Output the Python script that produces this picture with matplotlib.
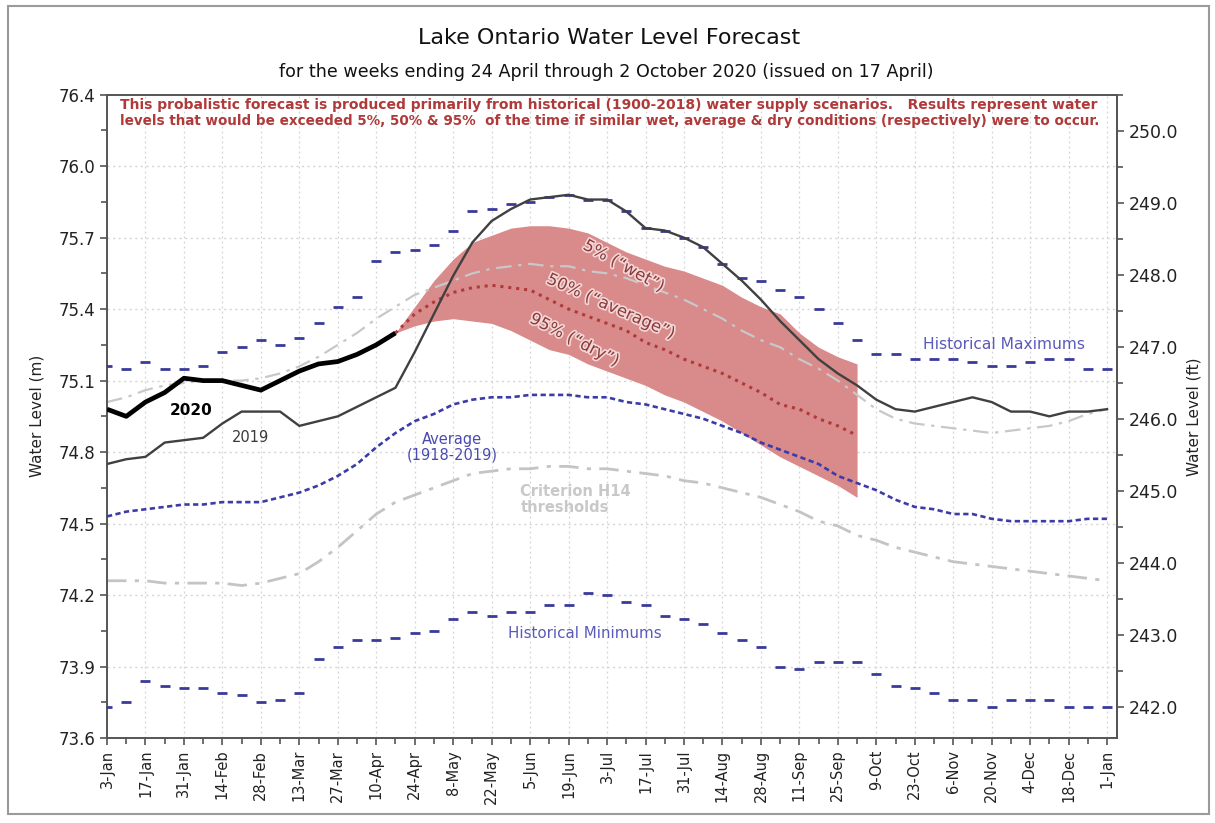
import matplotlib
matplotlib.use("Agg")
import matplotlib.pyplot as plt
import matplotlib.patheffects as pe
from matplotlib.patches import Rectangle
import numpy as np

# ---------------- data ----------------
week_labels = ["3-Jan", "17-Jan", "31-Jan", "14-Feb", "28-Feb", "13-Mar", "27-Mar",
               "10-Apr", "24-Apr", "8-May", "22-May", "5-Jun", "19-Jun", "3-Jul",
               "17-Jul", "31-Jul", "14-Aug", "28-Aug", "11-Sep", "25-Sep", "9-Oct",
               "23-Oct", "6-Nov", "20-Nov", "4-Dec", "18-Dec", "1-Jan"]

hist_max = [75.16, 75.15, 75.18, 75.15, 75.15, 75.16, 75.22, 75.24, 75.27, 75.25,
            75.28, 75.34, 75.41, 75.45, 75.60, 75.64, 75.65, 75.67, 75.73, 75.81,
            75.82, 75.84, 75.85, 75.87, 75.88, 75.86, 75.86, 75.81, 75.74, 75.73,
            75.70, 75.66, 75.59, 75.53, 75.52, 75.48, 75.45, 75.40, 75.34, 75.27,
            75.21, 75.21, 75.19, 75.19, 75.19, 75.18, 75.16, 75.16, 75.18, 75.19,
            75.19, 75.15, 75.15]

hist_min = [73.73, 73.75, 73.84, 73.82, 73.81, 73.81, 73.79, 73.78, 73.75, 73.76,
            73.79, 73.93, 73.98, 74.01, 74.01, 74.02, 74.04, 74.05, 74.10, 74.13,
            74.11, 74.13, 74.13, 74.16, 74.16, 74.21, 74.20, 74.17, 74.16, 74.11,
            74.10, 74.08, 74.04, 74.01, 73.98, 73.90, 73.89, 73.92, 73.92, 73.92,
            73.87, 73.82, 73.81, 73.79, 73.76, 73.76, 73.73, 73.76, 73.76, 73.76,
            73.73, 73.73, 73.73]

average = [74.53, 74.55, 74.56, 74.57, 74.58, 74.58, 74.59, 74.59, 74.59, 74.61,
           74.63, 74.66, 74.70, 74.75, 74.82, 74.88, 74.93, 74.96, 75.00, 75.02,
           75.03, 75.03, 75.04, 75.04, 75.04, 75.03, 75.03, 75.01, 75.00, 74.98,
           74.96, 74.94, 74.91, 74.88, 74.84, 74.81, 74.78, 74.75, 74.70, 74.67,
           74.64, 74.60, 74.57, 74.56, 74.54, 74.54, 74.52, 74.51, 74.51, 74.51,
           74.51, 74.52, 74.52]

h14_lower = [74.26, 74.26, 74.26, 74.25, 74.25, 74.25, 74.25, 74.24, 74.25, 74.27,
             74.29, 74.34, 74.40, 74.47, 74.54, 74.59, 74.62, 74.65, 74.68, 74.71,
             74.72, 74.73, 74.73, 74.74, 74.74, 74.73, 74.73, 74.72, 74.71, 74.70,
             74.68, 74.67, 74.65, 74.63, 74.61, 74.58, 74.55, 74.51, 74.49, 74.45,
             74.43, 74.40, 74.38, 74.36, 74.34, 74.33, 74.32, 74.31, 74.30, 74.29,
             74.28, 74.27, 74.26]

h14_upper = [75.01, 75.03, 75.06, 75.08, 75.09, 75.10, 75.10, 75.10, 75.11, 75.13,
             75.16, 75.20, 75.25, 75.30, 75.36, 75.41, 75.46, 75.49, 75.52, 75.55,
             75.57, 75.58, 75.59, 75.58, 75.58, 75.56, 75.55, 75.53, 75.50, 75.47,
             75.44, 75.40, 75.36, 75.31, 75.27, 75.24, 75.19, 75.15, 75.10, 75.04,
             74.98, 74.94, 74.92, 74.91, 74.90, 74.89, 74.88, 74.89, 74.90, 74.91,
             74.93, 74.96, 74.98]

level_2019 = [74.75, 74.77, 74.78, 74.84, 74.85, 74.86, 74.92, 74.97, 74.97, 74.97,
              74.91, 74.93, 74.95, 74.99, 75.03, 75.07, 75.22, 75.38, 75.54, 75.68,
              75.77, 75.82, 75.86, 75.87, 75.88, 75.86, 75.86, 75.81, 75.74, 75.73,
              75.70, 75.66, 75.59, 75.52, 75.44, 75.35, 75.27, 75.19, 75.13, 75.08,
              75.02, 74.98, 74.97, 74.99, 75.01, 75.03, 75.01, 74.97, 74.97, 74.95,
              74.97, 74.97, 74.98]

level_2020 = [74.98, 74.95, 75.01, 75.05, 75.11, 75.10, 75.10, 75.08, 75.06, 75.10,
              75.14, 75.17, 75.18, 75.21, 75.25, 75.30]

fc_start = 15  # week index of 17-Apr
fc_p5 = [75.30, 75.41, 75.52, 75.61, 75.68, 75.71, 75.74, 75.75, 75.75, 75.74,
         75.72, 75.68, 75.64, 75.61, 75.58, 75.56, 75.53, 75.50, 75.45, 75.41,
         75.38, 75.30, 75.24, 75.20, 75.17]
fc_p50 = [75.30, 75.38, 75.43, 75.47, 75.49, 75.50, 75.49, 75.48, 75.44, 75.40,
          75.37, 75.34, 75.31, 75.26, 75.23, 75.19, 75.16, 75.13, 75.09, 75.05,
          75.00, 74.98, 74.94, 74.91, 74.87]
fc_p95 = [75.30, 75.33, 75.35, 75.36, 75.35, 75.34, 75.31, 75.27, 75.23, 75.21,
          75.17, 75.14, 75.11, 75.08, 75.04, 75.01, 74.97, 74.93, 74.88, 74.83,
          74.78, 74.74, 74.70, 74.66, 74.61]

left_ticks = [73.6, 73.9, 74.2, 74.5, 74.8, 75.1, 75.4, 75.7, 76.0, 76.3]
left_tick_labels = ["73.6", "73.9", "74.2", "74.5", "74.8", "75.1", "75.4", "75.7", "76.0", "76.4"]
right_ticks = [242.0, 243.0, 244.0, 245.0, 246.0, 247.0, 248.0, 249.0, 250.0]

# ---------------- figure ----------------
plt.rcParams['font.family'] = ['DejaVu Sans']
fig = plt.figure(figsize=(12.15, 8.23), dpi=100)
ax = fig.add_axes([107/1215, 1-738/823, (1116.7-107)/1215, (738-94.7)/823])

weeks = np.arange(len(hist_max))
fc_x = np.arange(fc_start, fc_start + len(fc_p5))

grid_c = '#d4d4d4'
for y in left_ticks[1:-1]:
    ax.axhline(y, color=grid_c, lw=1.0, ls=(0, (1.5, 2.5)), zorder=0)
for i in range(2, 53, 2):
    ax.axvline(i, color=grid_c, lw=0.9, ls=(0, (1.5, 2.5)), zorder=0)

ax.fill_between(fc_x, fc_p95, fc_p5, color='#d98a8a', lw=0, zorder=1)

ax.plot(weeks, h14_lower, color='#c4c4c4', lw=2.0, ls=(0, (7, 3, 1.5, 3)), zorder=2)
ax.plot(weeks, h14_upper, color='#c8c8c8', lw=1.6, ls=(0, (7, 3, 1.5, 3)), zorder=2)

ax.plot(fc_x, fc_p50, color='#b03a3a', lw=2.2, ls=(0, (1, 1.6)), zorder=3)

ax.plot(weeks, average, color='#3c3ca8', lw=1.9, ls=(0, (2, 1.3)), zorder=3)

ax.plot(weeks, hist_max, ls='none', marker='_', ms=7, mew=2.0, color='#3a3a9a', zorder=4)
ax.plot(weeks, hist_min, ls='none', marker='_', ms=7, mew=2.0, color='#3a3a9a', zorder=4)

ax.plot(weeks, level_2019, color='#404040', lw=1.7, zorder=5)
ax.plot(np.arange(len(level_2020)), level_2020, color='black', lw=3.4, zorder=6,
        solid_capstyle='butt')

ax.set_xlim(0, 52.5)
ax.set_ylim(73.6, 76.3)
ax.set_xticks(np.arange(0, 53, 2))
ax.set_xticklabels(week_labels, rotation=90, fontsize=10.5, color='#222222')
ax.set_xticks(np.arange(0, 53, 1), minor=True)
ax.set_yticks(left_ticks)
ax.set_yticklabels(left_tick_labels, fontsize=12, color='#222222')
ax.set_yticks(np.arange(73.75, 76.3, 0.3), minor=True)
ax.tick_params(axis='both', which='major', direction='out', length=5, width=1.2, color='#555555')
ax.tick_params(axis='both', which='minor', direction='out', length=4, width=1.2, color='#555555')
for s in ax.spines.values():
    s.set_color('#555555')
    s.set_linewidth(1.4)
ax.set_ylabel('Water Level (m)', fontsize=11, color='#222222', labelpad=10)

ax2 = ax.twinx()
ax2.set_ylim(241.565, 250.5)
ax2.set_yticks(right_ticks)
ax2.set_yticklabels([f"{v:.1f}" for v in right_ticks], fontsize=12.5, color='#222222')
ax2.set_yticks(np.arange(241.5, 250.6, 0.5)[1:], minor=True)
ax2.tick_params(axis='y', which='major', direction='out', length=5, width=1.2, color='#555555')
ax2.tick_params(axis='y', which='minor', direction='out', length=4, width=1.2, color='#555555')
for s in ax2.spines.values():
    s.set_visible(False)
ax2.spines['right'].set_visible(True)
ax2.spines['right'].set_color('#555555')
ax2.spines['right'].set_linewidth(1.4)
ax2.set_ylabel('Water Level (ft)', fontsize=11, color='#222222', labelpad=6)

# ---------------- annotations ----------------
ax.text(4.37, 74.976, '2020', fontsize=11, fontweight='bold', color='black',
        ha='center', va='center', zorder=7)
ax.text(7.44, 74.863, '2019', fontsize=10.5, color='#3a3a3a', ha='center', va='center', zorder=7)
ax.text(17.95, 74.82, 'Average\n(1918-2019)', fontsize=10.5, color='#4a4ab0',
        ha='center', va='center', linespacing=1.0, zorder=7)
ax.text(21.5, 74.60, 'Criterion H14\nthresholds', fontsize=10.5, fontweight='bold',
        color='#c8c8c8', ha='left', va='center', linespacing=1.1, zorder=7)
ax.text(24.84, 74.04, 'Historical Minimums', fontsize=10.9, color='#5a5abc',
        ha='center', va='center', zorder=7)
ax.text(46.64, 75.25, 'Historical Maximums', fontsize=11.2, color='#5a5abc',
        ha='center', va='center', zorder=7)

halo = [pe.withStroke(linewidth=2.4, foreground='#f3d6d6')]
ax.text(26.86, 75.58, '5% (\u201cwet\u201d)', fontsize=11.8, color='#8a3a3a', rotation=-29,
        ha='center', va='center', path_effects=halo, zorder=7, rotation_mode='anchor')
ax.text(26.2, 75.41, '50% (\u201caverage\u201d)', fontsize=11.8, color='#8a3a3a', rotation=-24,
        ha='center', va='center', path_effects=halo, zorder=7, rotation_mode='anchor')
ax.text(24.3, 75.27, '95% (\u201cdry\u201d)', fontsize=11.8, color='#8a3a3a', rotation=-27,
        ha='center', va='center', path_effects=halo, zorder=7, rotation_mode='anchor')

red = '#b03a3a'
fig.text(120/1215, 1-105/823,
         'This probalistic forecast is produced primarily from historical (1900-2018) water supply scenarios.   Results represent water',
         fontsize=10, fontweight='bold', color=red, ha='left', va='center')
fig.text(120/1215, 1-121/823,
         'levels that would be exceeded 5%, 50% & 95%  of the time if similar wet, average & dry conditions (respectively) were to occur.',
         fontsize=9.75, fontweight='bold', color=red, ha='left', va='center')

fig.text(609/1215, 1-38/823, 'Lake Ontario Water Level Forecast', fontsize=16,
         color='#111111', ha='center', va='center')
fig.text(606/1215, 1-72/823,
         'for the weeks ending 24 April through 2 October 2020 (issued on 17 April)',
         fontsize=12.6, color='#111111', ha='center', va='center')

fig.patches.append(Rectangle((8/1215, 1-814/823), (1209-8)/1215, (814-6)/823,
                             transform=fig.transFigure, fill=False,
                             edgecolor='#9a9a9a', lw=1.5))

fig.savefig('out.png', dpi=100)
